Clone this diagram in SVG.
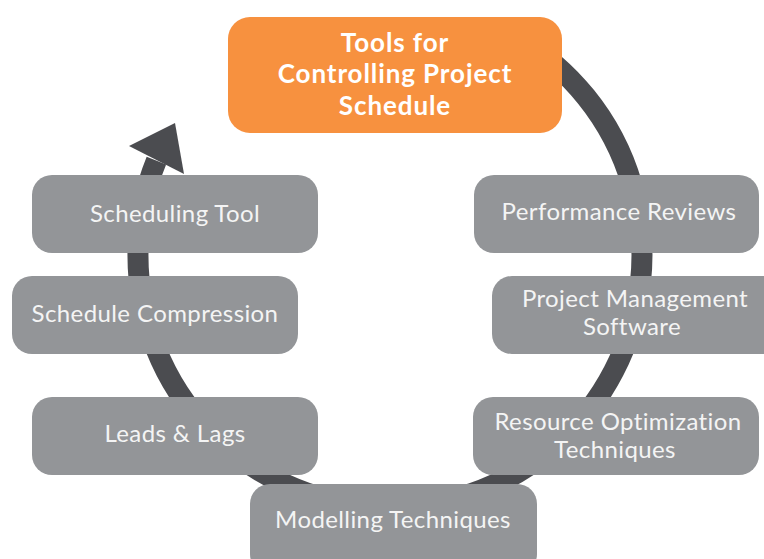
<svg xmlns="http://www.w3.org/2000/svg" width="764" height="559" viewBox="0 0 764 559">
  <style>
    .box { fill: #939598; }
    .lbl { font-family: Lato, "Open Sans", "Liberation Sans", sans-serif; font-size: 24px; letter-spacing: 0.4px; fill: #f4f4f4; text-anchor: middle; }
    .title { font-family: Lato, "Open Sans", "Liberation Sans", sans-serif; font-size: 26px; font-weight: 700; letter-spacing: 0.9px; fill: #ffffff; text-anchor: middle; }
  </style>
  <rect width="764" height="559" fill="#ffffff"/>
  <g id="connectors">
    <path d="M 516 37 A 252 252 0 1 1 156.4 160.6" fill="none" stroke="#4b4c50" stroke-width="21"/>
    <polygon points="175,123 129,146 184,174" fill="#4b4c50"/>
  </g>
  <g id="node-title">
    <rect x="228" y="17" width="334" height="116" rx="22" fill="#f7913f"/>
    <text class="title" x="395" y="52">Tools for</text>
    <text class="title" x="395" y="83">Controlling Project</text>
    <text class="title" x="395" y="115">Schedule</text>
  </g>
  <g id="node-scheduling-tool">
    <rect class="box" x="32" y="175" width="286" height="78" rx="20"/>
    <text class="lbl" x="175" y="222">Scheduling Tool</text>
  </g>
  <g id="node-schedule-compression">
    <rect class="box" x="12" y="276" width="286" height="78" rx="20"/>
    <text class="lbl" x="155" y="322">Schedule Compression</text>
  </g>
  <g id="node-leads-lags">
    <rect class="box" x="32" y="397" width="286" height="78" rx="20"/>
    <text class="lbl" x="175" y="442">Leads &amp; Lags</text>
  </g>
  <g id="node-modelling">
    <rect class="box" x="250" y="484" width="287" height="90" rx="20"/>
    <text class="lbl" x="393" y="528">Modelling Techniques</text>
  </g>
  <g id="node-performance-reviews">
    <rect class="box" x="474" y="175" width="285" height="78" rx="20"/>
    <text class="lbl" x="619" y="220">Performance Reviews</text>
  </g>
  <g id="node-pm-software">
    <rect class="box" x="492" y="276" width="290" height="78" rx="20"/>
    <text class="lbl" x="635" y="307">Project Management</text>
    <text class="lbl" x="632" y="335">Software</text>
  </g>
  <g id="node-resource-optimization">
    <rect class="box" x="473" y="397" width="286" height="78" rx="20"/>
    <text class="lbl" x="618" y="430">Resource Optimization</text>
    <text class="lbl" x="615" y="458">Techniques</text>
  </g>
</svg>
